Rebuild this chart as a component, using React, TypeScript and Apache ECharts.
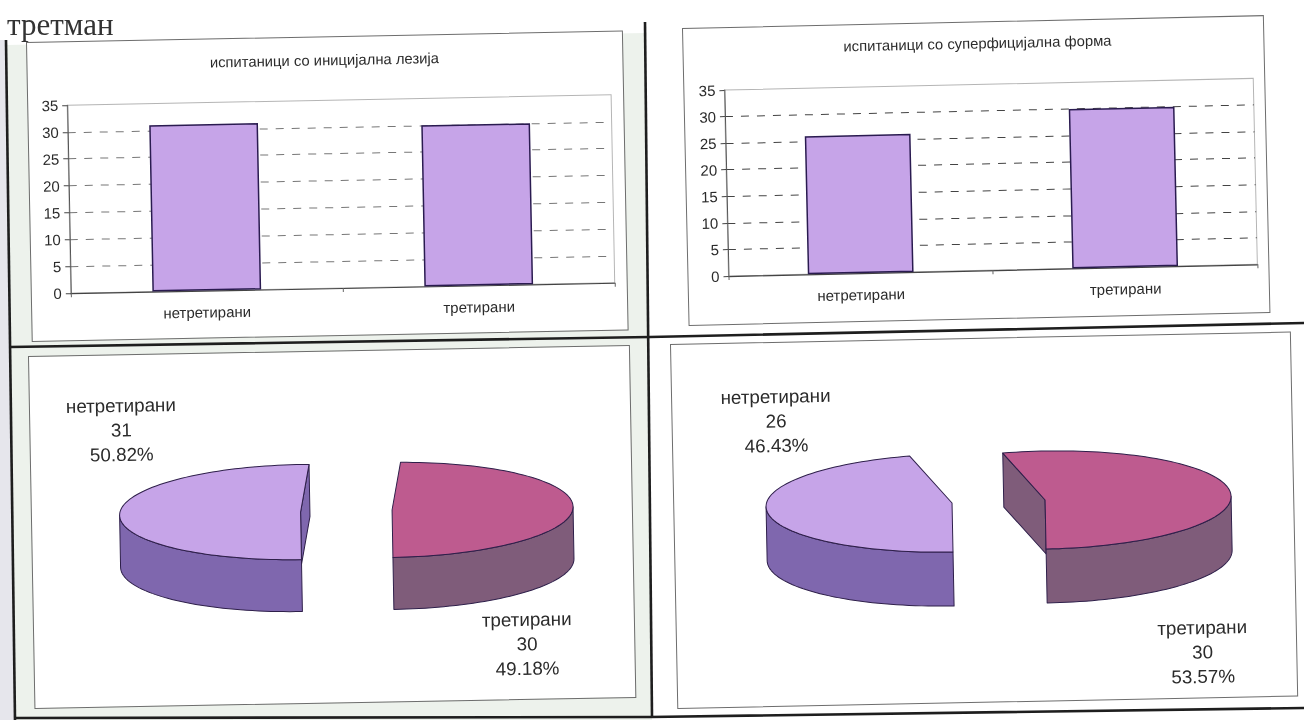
import React, { useEffect, useRef } from "react";
import * as echarts from "echarts";

const pageHeading = "третман";
const categories = ["нетретирани", "третирани"];
const yTicks = { min: 0, max: 35, step: 5 };

const titleInitial = "испитаници со иницијална лезија";
const titleSuperficial = "испитаници со суперфицијална форма";
const valuesInitial = [31, 30];
const valuesSuperficial = [26, 30];

const FONT = "'Liberation Sans', Arial, sans-serif";
const BAR_FILL = "#C6A4E8";
const BAR_EDGE = "#2A1B50";
const TOP_COLORS = ["#C6A4E8", "#BE5B8F"];
const WALL_COLORS = ["#7F67AE", "#7F5C7A"];
const EDGE = "#2E1F4A";

function panelStyle(p: any): React.CSSProperties {
  return {
    position: "absolute",
    left: p.x,
    top: p.y,
    width: p.w,
    height: p.h,
    transform: `rotate(${-p.angle}deg)`,
    transformOrigin: "0 0",
    outline: "1px solid #6d6d6d",
    background: "#fff",
  };
}

function barOption(title: string, values: number[], l: any) {
  return {
    animation: false,
    title: {
      text: title,
      left: l.titleX,
      top: l.titleY,
      textAlign: "center",
      textVerticalAlign: "middle",
      textStyle: { fontFamily: FONT, fontSize: 14.8, fontWeight: "normal", color: "#2b2b2b" },
    },
    grid: {
      left: l.left,
      right: l.right,
      top: l.top,
      bottom: l.bottom,
      show: true,
      borderColor: "#b5b5b5",
      borderWidth: 1,
    },
    xAxis: {
      type: "category",
      data: categories,
      axisLine: { lineStyle: { color: "#444", width: 1.2 } },
      axisTick: { show: true, length: 4, lineStyle: { color: "#666" } },
      axisLabel: { fontFamily: FONT, fontSize: 15, color: "#2b2b2b", margin: 14 },
    },
    yAxis: {
      type: "value",
      min: yTicks.min,
      max: yTicks.max,
      interval: yTicks.step,
      axisLine: { show: true, lineStyle: { color: "#555", width: 1 } },
      axisTick: { show: true, length: 5, lineStyle: { color: "#444" } },
      axisLabel: { fontFamily: FONT, fontSize: 15, color: "#2b2b2b", margin: 9 },
      splitLine: { show: true, showMinLine: false, showMaxLine: false, lineStyle: { color: l.gridColor, type: [8, 8], width: 1 } },
    },
    series: [
      {
        type: "bar",
        data: values,
        barWidth: "40%",
        itemStyle: { color: BAR_FILL, borderColor: BAR_EDGE, borderWidth: 1.5 },
      },
    ],
  };
}

function pieOption(values: number[], l: any) {
  const total = values.reduce((a, b) => a + b, 0);
  return {
    animation: false,
    series: [
      {
        type: "custom",
        coordinateSystem: "none",
        data: values.map((v) => [v]),
        renderItem: (params: any, api: any) => {
          const i = params.dataIndex;
          const share = api.value(0) / total;
          const firstShare = values[0] / total;
          const start = i === 0 ? 0 : firstShare * 360;
          const end = i === 0 ? firstShare * 360 : 360;
          const c = l.centers[i];
          const rim = (deg: number, dy = 0) => {
            const a = (deg * Math.PI) / 180;
            return [c[0] - l.rx * Math.sin(a), c[1] + l.ry * Math.cos(a) + dy];
          };
          const sweep = (a0: number, a1: number, dy = 0) => {
            const pts: number[][] = [];
            const n = Math.max(2, Math.ceil(Math.abs(a1 - a0) / 2));
            for (let k = 0; k <= n; k++) pts.push(rim(a0 + ((a1 - a0) * k) / n, dy));
            return pts;
          };
          // the wall seen from the front runs from the bottom of the rim to its outer extreme
          const wallFrom = i === 0 ? 0 : 270;
          const wallTo = i === 0 ? 90 : 360;
          const wall = [...sweep(wallFrom, wallTo), ...sweep(wallTo, wallFrom, l.depth)];
          const top = [c, ...sweep(start, end)];
          const children: any[] = [];
          const stroke = { stroke: EDGE, lineWidth: 1, lineJoin: "round" };
          // cut face seen through the gap between the two slices
          const cutAngle = firstShare * 360;
          if (i === 0 ? cutAngle > 180 : cutAngle < 180) {
            const tip = rim(cutAngle);
            children.push({
              type: "polygon",
              shape: { points: [c, tip, [tip[0], tip[1] + l.depth], [c[0], c[1] + l.depth]] },
              style: { fill: WALL_COLORS[i], ...stroke },
            });
          }
          children.push({ type: "polygon", shape: { points: wall }, style: { fill: WALL_COLORS[i], ...stroke } });
          children.push({ type: "polygon", shape: { points: top }, style: { fill: TOP_COLORS[i], ...stroke } });
          children.push({
            type: "text",
            x: l.labels[i][0],
            y: l.labels[i][1],
            style: {
              text: `${categories[i]}\n${api.value(0)}\n${(share * 100).toFixed(2)}%`,
              fontFamily: FONT,
              fontSize: 18.8,
              lineHeight: 24.5,
              fill: "#2b2b2b",
              align: "center",
              verticalAlign: "middle",
            },
          });
          return { type: "group", children };
        },
      },
    ],
  };
}

function backgroundOption() {
  const dark = { stroke: "#1e1e1e", lineWidth: 2.6 };
  const line = (pts: number[][], style = dark) => ({ type: "polyline", shape: { points: pts }, style: { ...style, fill: "none" } });
  return {
    animation: false,
    graphic: [
      { type: "polygon", shape: { points: [[6, 45], [645, 33], [652, 720], [15, 720]] }, style: { fill: "#EDF2EC" } },
      { type: "polygon", shape: { points: [[0, 40], [6, 40], [15, 720], [0, 720]] }, style: { fill: "#E6E6EC" } },
      line([[6, 40], [15, 720]]),
      line([[645, 22], [652, 716]]),
      line([[10, 347], [650, 337], [1304, 323]]),
      line([[15, 718], [650, 717], [1304, 708]]),
      {
        type: "text",
        x: 7,
        y: 24,
        style: { text: pageHeading, fontFamily: "'Liberation Serif', serif", fontSize: 31, fill: "#333", verticalAlign: "middle" },
      },
    ],
  };
}

const panels: any[] = [
  {
    box: { x: 27, y: 43, w: 595, h: 298, angle: 1.1 },
    option: () =>
      barOption(titleInitial, valuesInitial, { left: 39, right: 12, top: 63, bottom: 47, titleX: 292, titleY: 18, gridColor: "#777" }),
  },
  {
    box: { x: 683, y: 29, w: 580, h: 296, angle: 1.27 },
    option: () =>
      barOption(titleSuperficial, valuesSuperficial, { left: 40, right: 11, top: 62, bottom: 48, titleX: 289, titleY: 16, gridColor: "#444" }),
  },
  {
    box: { x: 29, y: 357, w: 600, h: 351, angle: 1.05 },
    option: () =>
      pieOption(valuesInitial, {
        centers: [[268.7, 160], [360.2, 159.6]],
        rx: 181,
        ry: 47.5,
        depth: 52,
        labels: [[91, 74.7], [492.8, 296]],
      }),
  },
  {
    box: { x: 671, y: 345, w: 619, h: 363, angle: 1.15 },
    option: () =>
      pieOption(valuesSuperficial, {
        centers: [[277.8, 163.6], [370.9, 162.5]],
        rx: 186,
        ry: 49,
        depth: 54,
        labels: [[103.5, 78.1], [525.4, 317.6]],
      }),
  },
];

function Chart({ style, option }: { style: React.CSSProperties; option: () => any }) {
  const ref = useRef<HTMLDivElement>(null);
  useEffect(() => {
    const chart = echarts.init(ref.current!, undefined, { renderer: "svg" });
    chart.setOption(option());
    return () => chart.dispose();
  }, []);
  return <div ref={ref} style={style} />;
}

export default function App() {
  useEffect(() => {
    document.body.style.margin = "0";
    document.body.style.overflow = "hidden";
  }, []);
  return (
    <div style={{ position: "absolute", left: 0, top: 0, width: 1304, height: 720, overflow: "hidden", background: "#fff", filter: "blur(0.4px)" }}>
      <Chart style={{ position: "absolute", left: 0, top: 0, width: 1304, height: 720 }} option={backgroundOption} />
      {panels.map((p, i) => (
        <Chart key={i} style={panelStyle(p.box)} option={p.option} />
      ))}
    </div>
  );
}
